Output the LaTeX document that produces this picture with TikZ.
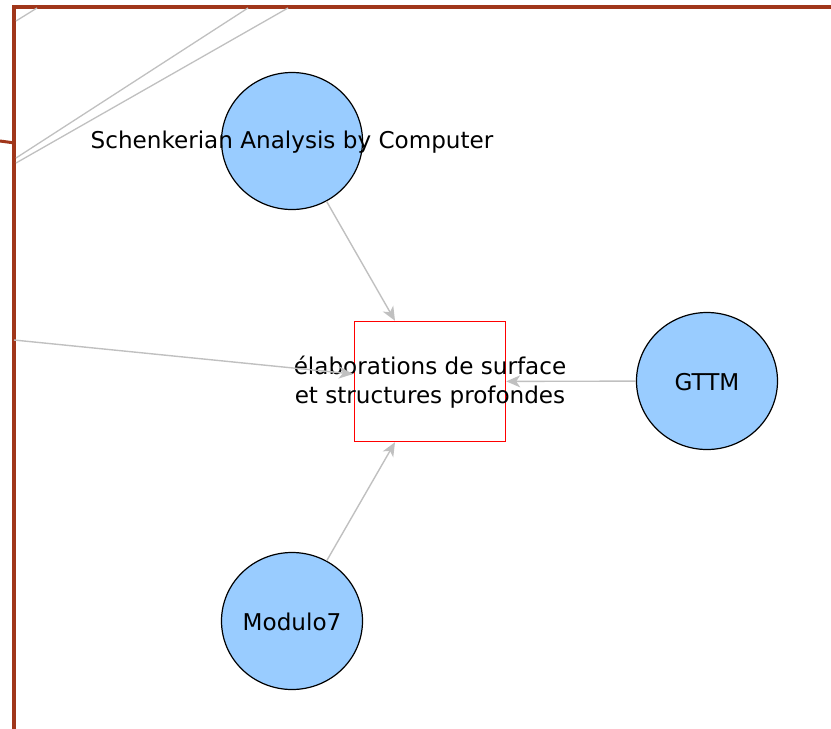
\documentclass[tikz,border=0pt]{standalone}
\usepackage{fontspec}
\setmainfont{DejaVu Sans}
\usetikzlibrary{arrows.meta,shapes.geometric}
\definecolor{brownline}{HTML}{A0361A}
\definecolor{nodefill}{HTML}{99CCFF}
\definecolor{edgegrey}{HTML}{C0C0C0}
\begin{document}
\begin{tikzpicture}[x=1pt,y=-1pt,
  topic/.style={draw=black, line width=1.2pt, fill=nodefill, ellipse, minimum width=141pt, minimum height=137pt, inner sep=0pt},
  concept/.style={draw=red, line width=1.4pt, minimum width=151pt, minimum height=120pt, inner sep=0pt},
  lbl/.style={font=\fontsize{23.1}{28.5}\selectfont, align=center, text=black},
  edge/.style={draw=edgegrey, line width=1.4pt, -{Stealth[length=14pt,width=12pt,inset=4pt]}},
  frame/.style={draw=brownline, line width=3.5pt},
  thin/.style={draw=edgegrey, line width=1.3pt}]
\useasboundingbox (0,0) rectangle (831,729);
% frame
\coordinate (fl) at (14,729);
\coordinate (ftl) at (14,7);
\coordinate (ftr) at (831,7);
\coordinate (tick0) at (0,141);
\coordinate (tick1) at (15,143);
\draw[frame] (fl) -- (ftl) -- (ftr);
\draw[frame, line width=3pt] (tick0) -- (tick1);
% grey lines top-left
\coordinate (g1a) at (16,21);
\coordinate (g1b) at (37,8);
\coordinate (g2a) at (16,158);
\coordinate (g2b) at (248,8);
\coordinate (g3a) at (16,163);
\coordinate (g3b) at (288,8);
\draw[thin] (g1a) -- (g1b);
\draw[thin] (g2a) -- (g2b);
\draw[thin] (g3a) -- (g3b);
% nodes
\node[topic] (sch) at (292,141) {};
\node[topic] (gttm) at (707,381) {};
\node[topic] (mod) at (292,621) {};
\node[concept] (box) at (430,381.5) {};
% labels
\node[lbl] (schl) at (292,142) {Schenkerian Analysis by Computer};
\node[lbl] (gttml) at (707,382) {GTTM};
\node[lbl] (modl) at (292,622) {Modulo7};
\node[lbl] (boxl) at (430,382) {élaborations de surface\\et structures profondes};
% edges
\coordinate (lft) at (14,340);
\coordinate (lftend) at (353,374);
\draw[edge] (sch) -- (box.north -| 395,0);
\draw[edge] (mod) -- (box.south -| 395,0);
\draw[edge] (gttm) -- (box);
\draw[edge] (lft) -- (lftend);
\end{tikzpicture}
\end{document}
